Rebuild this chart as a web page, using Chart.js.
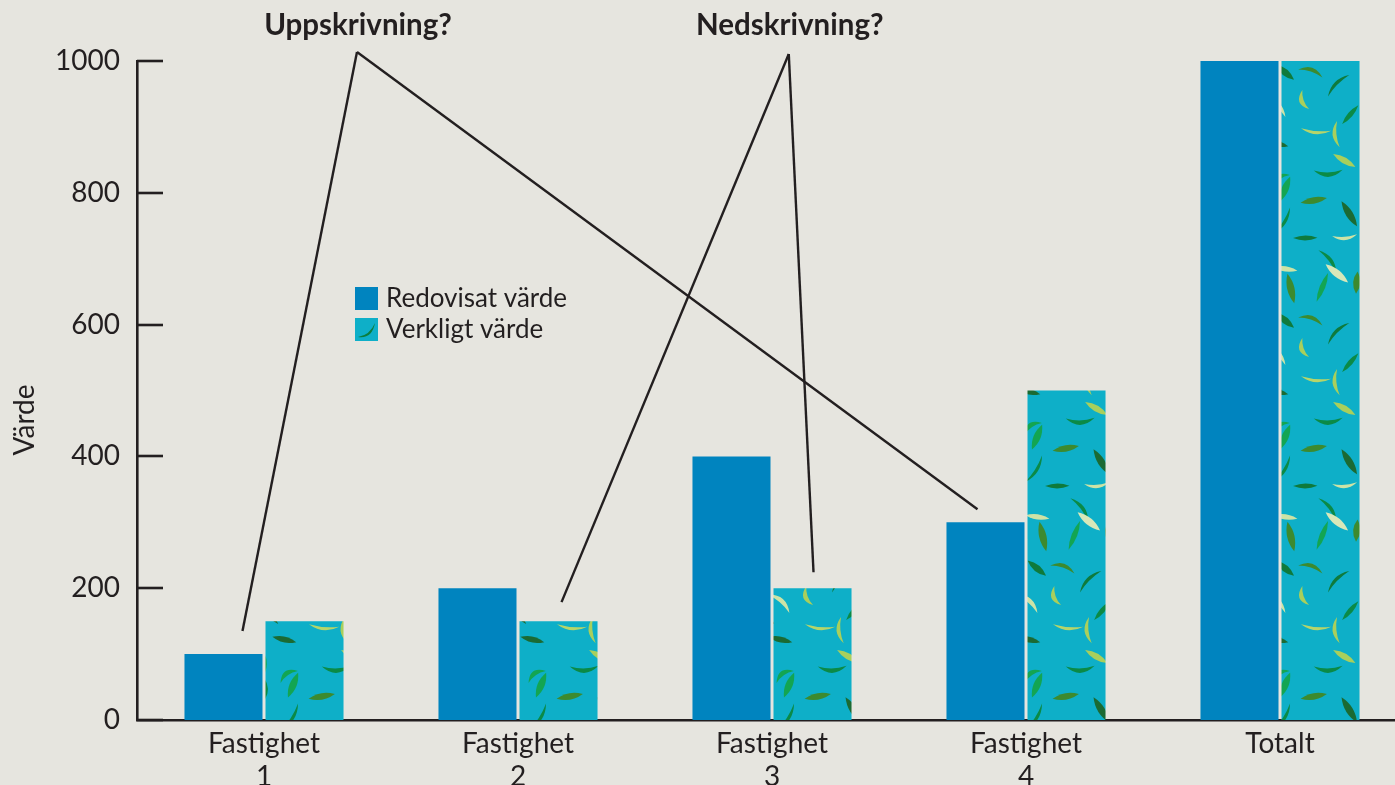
<!DOCTYPE html>
<html>
<head>
<meta charset="utf-8">
<script src="https://cdn.jsdelivr.net/npm/chart.js@4.4.1/dist/chart.umd.min.js"></script>
<style>
  html, body { margin: 0; padding: 0; background: #e6e5df; overflow: hidden; width: 1395px; height: 785px; }
  #wrap { position: absolute; left: 0; top: 0; width: 1410px; height: 785px; }
</style>
</head>
<body>
<div id="wrap"><canvas id="c"></canvas></div>
<script>
// ---- data ----
const categories = [['Fastighet', '1'], ['Fastighet', '2'], ['Fastighet', '3'], ['Fastighet', '4'], 'Totalt'];
const redovisatVarde = [100, 200, 400, 300, 1000];
const verkligtVarde = [150, 150, 200, 500, 1000];
const seriesNames = ['Redovisat värde', 'Verkligt värde'];
const yTicks = [0, 200, 400, 600, 800, 1000];
const yTitle = 'Värde';
const calloutLabels = ['Uppskrivning?', 'Nedskrivning?'];

// ---- style ----
const INK = '#231f20';
const BLUE = '#0084bf';
const CYAN = '#0eafc8';
const FONT = 'Lato, "Open Sans", sans-serif';

const canvas = document.getElementById('c');
const ctx = canvas.getContext('2d');

function drawLeaf(g, x, y, a, L, w, crescent, col) {
  g.save();
  g.translate(x, y);
  g.rotate(a);
  g.fillStyle = col;
  g.beginPath();
  g.moveTo(-L / 2, 0);
  if (crescent) {
    g.quadraticCurveTo(0, -w * 1.8, L / 2, 0);
    g.quadraticCurveTo(0, -w * 0.6, -L / 2, 0);
  } else {
    g.quadraticCurveTo(0, -w, L / 2, 0);
    g.quadraticCurveTo(0, w, -L / 2, 0);
  }
  g.fill();
  g.restore();
}

// Tiled texture of scattered leaves for the "Verkligt värde" bars
function makeLeafPattern() {
  const T = 248, cell = 31;
  const c = document.createElement('canvas');
  c.width = c.height = T;
  const g = c.getContext('2d');
  g.fillStyle = CYAN;
  g.fillRect(0, 0, T, T);
  let seed = 73517;
  const rnd = () => { seed = (Math.imul(seed, 1664525) + 1013904223) >>> 0; return seed / 4294967296; };
  const palette = ['#1b6a33', '#0b8a46', '#13a552', '#3d8a2f', '#b6d56a', '#cde3a6', '#d8e8b9', '#0f7a3c', '#a9cf5c'];
  const n = T / cell;
  for (let gy = 0; gy < n; gy++) {
    for (let gx = 0; gx < n; gx++) {
      const x = (gx + 0.1 + rnd() * 0.8) * cell;
      const y = (gy + 0.1 + rnd() * 0.8) * cell;
      const ang = rnd() * Math.PI * 2;
      const L = 20 + rnd() * 12;
      const w = 5 + rnd() * 2.5;
      const crescent = rnd() < 0.4;
      const col = palette[Math.floor(rnd() * palette.length)];
      for (const dx of [-T, 0, T]) for (const dy of [-T, 0, T]) drawLeaf(g, x + dx, y + dy, ang, L, w, crescent, col);
    }
  }
  return ctx.createPattern(c, 'repeat');
}

const leafPattern = makeLeafPattern();

// Callout lines: each points from the label apex to just above a bar
const calloutTargets = [
  [{ ds: 0, i: 0, dx: 19, dy: -23 }, { ds: 0, i: 3, dx: -8, dy: -13 }],
  [{ ds: 1, i: 1, dx: 3, dy: -19 }, { ds: 1, i: 2, dx: 1, dy: -16 }]
];
const calloutIndexPos = [0.37, 2.07];

const decorations = {
  id: 'decorations',
  afterDatasetsDraw(chart) {
    const g = chart.ctx;
    const ys = chart.scales.y, xs = chart.scales.x;
    const area = chart.chartArea;
    g.save();

    // inward tick marks on the value axis
    g.strokeStyle = INK;
    g.lineWidth = 2.6;
    g.lineCap = 'butt';
    yTicks.forEach(v => {
      const py = Math.round(ys.getPixelForValue(v));
      g.beginPath();
      g.moveTo(area.left, py);
      g.lineTo(area.left + 26, py);
      g.stroke();
    });

    // callout labels and their leader lines
    g.fillStyle = INK;
    g.font = 'bold 29.5px ' + FONT;
    g.textAlign = 'center';
    g.textBaseline = 'alphabetic';
    calloutLabels.forEach((label, k) => {
      const ax = xs.getPixelForValue(calloutIndexPos[k]);
      g.fillText(label, ax, 35);
      const ay = 52 + k * 2;
      g.lineWidth = 2.4;
      calloutTargets[k].forEach(t => {
        const bar = chart.getDatasetMeta(t.ds).data[t.i];
        g.beginPath();
        g.moveTo(ax - 1, ay);
        g.lineTo(bar.x + t.dx, bar.y + t.dy);
        g.stroke();
      });
    });

    // legend inside the plot
    const lx = 355, ly = [287, 318];
    g.font = '26px ' + FONT;
    g.textAlign = 'left';
    g.textBaseline = 'middle';
    seriesNames.forEach((name, k) => {
      const y0 = ly[k];
      if (k === 0) {
        g.fillStyle = BLUE;
        g.fillRect(lx, y0, 23, 23);
      } else {
        g.fillStyle = CYAN;
        g.fillRect(lx, y0, 23, 23);
        g.fillStyle = '#0b7d3e';
        g.beginPath();
        g.moveTo(lx + 3, y0 + 19);
        g.quadraticCurveTo(lx + 17, y0 + 21, lx + 20, y0 + 5);
        g.quadraticCurveTo(lx + 15, y0 + 17, lx + 3, y0 + 19);
        g.fill();
      }
      g.fillStyle = INK;
      g.fillText(name, lx + 31, y0 + 12);
    });

    // value axis title
    g.save();
    g.translate(25, 420);
    g.rotate(-Math.PI / 2);
    g.font = '28px ' + FONT;
    g.textAlign = 'center';
    g.textBaseline = 'middle';
    g.fillStyle = INK;
    g.fillText(yTitle, 0, 0);
    g.restore();

    g.restore();
  }
};

new Chart(ctx, {
  type: 'bar',
  data: {
    labels: categories,
    datasets: [
      { label: seriesNames[0], data: redovisatVarde, backgroundColor: BLUE, borderWidth: 0 },
      { label: seriesNames[1], data: verkligtVarde, backgroundColor: leafPattern, borderWidth: 0 }
    ]
  },
  options: {
    responsive: true,
    maintainAspectRatio: false,
    animation: false,
    devicePixelRatio: 1,
    layout: { padding: { top: 61, right: 3, bottom: 0, left: 0 } },
    datasets: { bar: { categoryPercentage: 0.638, barPercentage: 0.963 } },
    plugins: { legend: { display: false }, tooltip: { enabled: false } },
    scales: {
      x: {
        grid: { display: false, drawTicks: false },
        border: { display: true, color: INK, width: 2.6 },
        ticks: { color: INK, font: { family: FONT, size: 28, lineHeight: 1.2 }, padding: 7, maxRotation: 0, autoSkip: false },
        afterFit(s) { s.height = 65; }
      },
      y: {
        min: 0, max: 1000,
        grid: { display: false, drawTicks: false },
        border: { display: true, color: INK, width: 2.6 },
        ticks: { color: INK, font: { family: FONT, size: 28 }, padding: 17, callback: v => String(v) },
        afterBuildTicks(s) { s.ticks = yTicks.map(v => ({ value: v })); },
        afterFit(s) { s.width = 137; }
      }
    }
  },
  plugins: [decorations]
});
</script>
</body>
</html>
